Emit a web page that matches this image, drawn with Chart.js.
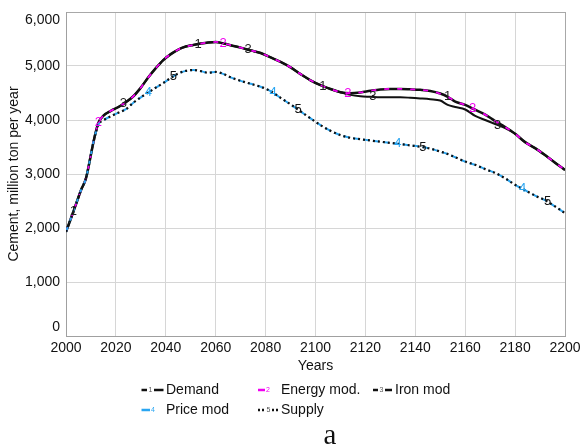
<!DOCTYPE html>
<html>
<head>
<meta charset="utf-8">
<script src="https://cdn.jsdelivr.net/npm/chart.js@4.4.1/dist/chart.umd.min.js"></script>
<style>
  html, body { margin: 0; padding: 0; background: #fff; }
  canvas { display: block; }
</style>
</head>
<body>
<canvas id="c" width="580" height="447"></canvas>
<script>
// Simulation years (x values shared by all series)
const years = [2000, 2002, 2004, 2006, 2008, 2010, 2011, 2012, 2013, 2015, 2018, 2021, 2024, 2027, 2030,
  2033, 2036, 2039, 2042, 2045, 2048, 2051, 2054, 2057, 2060, 2063, 2066, 2070, 2074, 2078, 2082,
  2086, 2090, 2094, 2098, 2102, 2106, 2110, 2114, 2118, 2122, 2126, 2130, 2134, 2138, 2142, 2146,
  2150, 2153, 2156, 2160, 2164, 2168, 2172, 2176, 2180, 2184, 2188, 2192, 2196, 2200];

// Cement, million ton per year
const demand = [1930, 2180, 2440, 2700, 2920, 3360, 3590, 3790, 3950, 4080, 4170, 4240, 4330, 4440, 4600,
  4790, 4960, 5110, 5220, 5305, 5360, 5390, 5415, 5435, 5445, 5420, 5385, 5340, 5290, 5240, 5160,
  5075, 4975, 4850, 4735, 4645, 4575, 4515, 4495, 4510, 4540, 4565, 4575, 4575, 4568, 4558, 4538,
  4490, 4430, 4340, 4280, 4190, 4100, 3980, 3870, 3745, 3590, 3480, 3350, 3210, 3075];

const energyMod = [1930, 2180, 2440, 2700, 2920, 3360, 3590, 3790, 3950, 4080, 4170, 4240, 4330, 4440, 4600,
  4790, 4960, 5110, 5220, 5305, 5360, 5390, 5415, 5435, 5445, 5420, 5385, 5340, 5290, 5240, 5160,
  5075, 4975, 4850, 4735, 4645, 4575, 4515, 4495, 4510, 4540, 4565, 4575, 4575, 4568, 4558, 4535,
  4485, 4430, 4345, 4280, 4190, 4100, 3980, 3870, 3745, 3590, 3480, 3350, 3210, 3075];

const ironMod = [1930, 2180, 2440, 2700, 2920, 3360, 3590, 3790, 3950, 4080, 4170, 4240, 4330, 4440, 4600,
  4790, 4960, 5110, 5220, 5305, 5360, 5390, 5415, 5435, 5445, 5420, 5385, 5340, 5290, 5240, 5160,
  5075, 4975, 4850, 4735, 4645, 4575, 4515, 4465, 4440, 4430, 4420, 4420, 4420, 4412, 4400, 4385,
  4360, 4280, 4240, 4195, 4075, 4000, 3925, 3850, 3745, 3590, 3480, 3350, 3210, 3075];

const priceMod = [1930, 2180, 2440, 2700, 2920, 3360, 3590, 3780, 3920, 3995, 4070, 4135, 4200, 4320, 4420,
  4510, 4600, 4685, 4780, 4860, 4910, 4925, 4905, 4875, 4890, 4855, 4790, 4725, 4670, 4615, 4535,
  4410, 4290, 4160, 4030, 3905, 3800, 3720, 3670, 3645, 3620, 3598, 3575, 3555, 3530, 3505, 3470,
  3415, 3370, 3310, 3230, 3170, 3090, 3020, 2920, 2800, 2700, 2600, 2515, 2400, 2275];

const supply = [1930, 2180, 2440, 2700, 2920, 3360, 3590, 3780, 3920, 3995, 4070, 4135, 4200, 4320, 4420,
  4510, 4600, 4685, 4780, 4860, 4910, 4925, 4905, 4875, 4890, 4855, 4790, 4725, 4670, 4615, 4535,
  4410, 4290, 4160, 4030, 3905, 3800, 3720, 3670, 3645, 3620, 3598, 3575, 3555, 3530, 3505, 3470,
  3415, 3370, 3310, 3230, 3170, 3090, 3020, 2920, 2800, 2700, 2600, 2515, 2400, 2275];

// Years at which each series carries its number tag
const demandTags = [2003, 2053, 2103, 2153];
const energyTags = [2013, 2063, 2113, 2163];
const ironTags = [2023, 2073, 2123, 2173];
const priceTags = [2033, 2083, 2133, 2183];
const supplyTags = [2043, 2093, 2143, 2193];

// Axis ticks
const xTickValues = [2000, 2020, 2040, 2060, 2080, 2100, 2120, 2140, 2160, 2180, 2200];
const yTickValues = [0, 1000, 2000, 3000, 4000, 5000, 6000];

const FONT = '"Liberation Sans", Arial, Helvetica, sans-serif';
const MAGENTA = '#f000f0';
const BLUE = '#2aa6f2';
const INK = '#111111';

const pts = arr => arr.map((v, i) => ({ x: years[i], y: v }));

function valueAt(data, yr) {
  for (let i = 1; i < data.length; i++) {
    if (data[i].x >= yr) {
      const a = data[i - 1], b = data[i];
      return a.y + (b.y - a.y) * (yr - a.x) / (b.x - a.x);
    }
  }
  return data[data.length - 1].y;
}

// Numbered tags drawn along each curve
const seriesTags = {
  id: 'seriesTags',
  afterDatasetsDraw(chart) {
    const { ctx, scales: { x, y } } = chart;
    ctx.save();
    ctx.font = '13px ' + FONT;
    ctx.textAlign = 'center';
    ctx.textBaseline = 'middle';
    chart.data.datasets.forEach(ds => {
      ctx.fillStyle = ds.tagColor;
      ds.tags.forEach(yr => {
        ctx.fillText(ds.tag, x.getPixelForValue(yr), y.getPixelForValue(valueAt(ds.data, yr)));
      });
    });
    ctx.restore();
  }
};

// Two-row legend with numbered line samples, and the panel letter
const legendBlock = {
  id: 'legendBlock',
  afterDraw(chart) {
    const { ctx } = chart;
    const items = [
      { label: 'Demand', tag: '1', color: INK, x: 141.5, tx: 166, y: 390, segs: [[0, 5.5], [12.5, 22]], dash: [] },
      { label: 'Energy mod.', tag: '2', color: MAGENTA, tx: 281, x: 258, y: 390, segs: [[0, 7]], dash: [] },
      { label: 'Iron mod', tag: '3', color: INK, x: 373, tx: 395, y: 390, segs: [[0, 5], [12, 19]], dash: [] },
      { label: 'Price mod', tag: '4', color: BLUE, x: 141.5, tx: 166, y: 410, segs: [[0, 8.5]], dash: [] },
      { label: 'Supply', tag: '5', color: INK, x: 258, tx: 281, y: 410, segs: [[0, 7], [14, 21]], dash: [2, 2] }
    ];
    ctx.save();
    items.forEach(it => {
      ctx.strokeStyle = it.color;
      ctx.lineWidth = 2.5;
      ctx.setLineDash(it.dash);
      it.segs.forEach(([a, b]) => {
        ctx.beginPath();
        ctx.moveTo(it.x + a, it.y);
        ctx.lineTo(it.x + b, it.y);
        ctx.stroke();
      });
      ctx.setLineDash([]);
      ctx.font = '7px ' + FONT;
      ctx.fillStyle = it.color === INK ? '#555' : it.color;
      ctx.textAlign = 'center';
      ctx.textBaseline = 'middle';
      const tagX = it.segs.length > 1 ? it.x + (it.segs[0][1] + it.segs[1][0]) / 2 : it.x + it.segs[0][1] + 3;
      ctx.fillText(it.tag, tagX, it.y);
      ctx.font = '14px ' + FONT;
      ctx.fillStyle = INK;
      ctx.textAlign = 'left';
      ctx.fillText(it.label, it.tx, it.y);
    });
    ctx.font = '29px "Liberation Serif", "Times New Roman", serif';
    ctx.fillStyle = INK;
    ctx.textAlign = 'center';
    ctx.textBaseline = 'alphabetic';
    ctx.fillText('a', 330, 444);
    ctx.restore();
  }
};

const base = { pointRadius: 0, pointHoverRadius: 0, fill: false, cubicInterpolationMode: 'monotone' };

new Chart(document.getElementById('c'), {
  type: 'line',
  data: {
    datasets: [
      { ...base, label: 'Supply', data: pts(supply), borderColor: INK, borderWidth: 2.2, borderDash: [2, 3],
        order: 0, tag: '5', tags: supplyTags, tagColor: INK },
      { ...base, label: 'Price mod', data: pts(priceMod), borderColor: BLUE, borderWidth: 2, borderDash: [6, 4],
        order: 1, tag: '4', tags: priceTags, tagColor: BLUE },
      { ...base, label: 'Energy mod.', data: pts(energyMod), borderColor: MAGENTA, borderWidth: 1.8, borderDash: [5, 8],
        order: 2, tag: '2', tags: energyTags, tagColor: MAGENTA },
      { ...base, label: 'Iron mod', data: pts(ironMod), borderColor: INK, borderWidth: 2,
        order: 3, tag: '3', tags: ironTags, tagColor: '#222' },
      { ...base, label: 'Demand', data: pts(demand), borderColor: INK, borderWidth: 2.5,
        order: 4, tag: '1', tags: demandTags, tagColor: '#222' }
    ]
  },
  options: {
    responsive: false,
    animation: false,
    events: [],
    layout: { padding: { left: 0, right: 15, top: 12, bottom: 69 } },
    plugins: { legend: { display: false }, tooltip: { enabled: false } },
    scales: {
      x: {
        type: 'linear',
        min: 2000,
        max: 2200,
        afterBuildTicks: s => { s.ticks = xTickValues.map(v => ({ value: v })); },
        afterFit: s => { s.height = 42; s.paddingLeft = 0; s.paddingRight = 0; },
        grid: {
          drawTicks: false,
          color: c => (c.tick && c.tick.value === 2200 ? '#a8a8a8' : '#d6d6d6'),
          lineWidth: 1
        },
        border: { display: true, color: '#a0a0a0', width: 1 },
        ticks: {
          padding: 4,
          color: INK,
          font: { family: FONT, size: 14 },
          maxRotation: 0,
          autoSkip: false,
          callback: v => String(v)
        },
        title: {
          display: true,
          text: 'Years',
          color: INK,
          font: { family: FONT, size: 14 },
          padding: { top: 0, bottom: 3 }
        }
      },
      y: {
        min: 0,
        max: 6000,
        afterBuildTicks: s => { s.ticks = yTickValues.map(v => ({ value: v })); },
        afterFit: s => { s.width = 66; s.paddingTop = 0; s.paddingBottom = 0; },
        grid: {
          drawTicks: false,
          color: c => (c.tick && c.tick.value === 6000 ? '#a8a8a8' : '#d6d6d6'),
          lineWidth: 1
        },
        border: { display: true, color: '#a0a0a0', width: 1 },
        ticks: {
          padding: 6,
          color: INK,
          font: { family: FONT, size: 14 },
          callback: v => {
            const s = Number(v).toLocaleString('en-US');
            if (v === 0) return [s, ''];
            if (v === 6000) return ['', s];
            return s;
          }
        },
        title: {
          display: true,
          text: 'Cement, million ton per year',
          color: INK,
          font: { family: FONT, size: 14 },
          padding: { top: 6, bottom: 0 }
        }
      }
    }
  },
  plugins: [seriesTags, legendBlock]
});
</script>
</body>
</html>
